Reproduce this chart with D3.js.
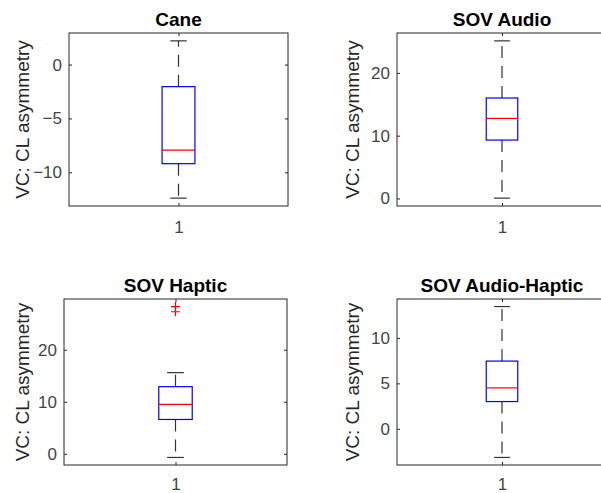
<!DOCTYPE html>
<html>
<head>
<meta charset="utf-8">
<script src="https://cdn.jsdelivr.net/npm/d3@7"></script>
<style>
  body { margin: 0; background: #fff; }
  svg text { font-family: "Liberation Sans", Arial, Helvetica, sans-serif; }
</style>
</head>
<body>
<div id="chart"></div>
<script>
// boxplot stats, one entry per subplot
let titles = ["Cane", "SOV Audio", "SOV Haptic", "SOV Audio-Haptic"];
let groups = ["1"];
let whiskerLow = [-12.4, 0.05, -0.7, -3.15];
let q1 = [-9.2, 9.3, 6.6, 3.0];
let medians = [-7.95, 12.75, 9.5, 4.5];
let q3 = [-2.05, 16.0, 12.9, 7.45];
let whiskerHigh = [2.2, 25.1, 15.6, 13.45];
let outliers = [[], [], [28.3, 27.3], []];
let yTicks = [[-10, -5, 0], [0, 10, 20], [0, 10, 20], [0, 5, 10]];
let yLabel = "VC: CL asymmetry";

// axes boxes, like matlab subplot positions
let panels = [
  {x: 69, y: 33, w: 219, h: 173, lx: 29, xpad: 15},
  {x: 397, y: 33, w: 210, h: 173, lx: 359, xpad: 15},
  {x: 64, y: 299, w: 223, h: 166, lx: 29, xpad: 13},
  {x: 397, y: 299, w: 210, h: 166, lx: 359, xpad: 13}
];

let axisCol = '#262626';
let textCol = '#444';
let tickFont = 17;
let titleFont = 19;

let svg = d3.select('#chart').append('svg')
  .attr('width', 601).attr('height', 493);

function styleAxis(g) {
  g.attr('font-family', null).attr('font-size', tickFont);
  g.select('.domain').remove();
  g.selectAll('line').attr('stroke', axisCol);
  g.selectAll('text').attr('fill', textCol);
}

panels.forEach((p, i) => {
  let lo = d3.min([whiskerLow[i], ...outliers[i]]);
  let hi = d3.max([whiskerHigh[i], ...outliers[i]]);
  let pad = (hi - lo) * 0.05;
  let y = d3.scaleLinear().domain([lo - pad, hi + pad]).range([p.h, 0]);
  let x = d3.scalePoint().domain(groups).range([0, p.w]).padding(0.5);
  let bw = x.step() * 0.075;   // half box width
  let cw = bw / 2;             // half cap width
  let cx = x(groups[0]);

  let g = svg.append('g').attr('transform', `translate(${p.x},${p.y})`);

  // ticks on all four sides, pointing in
  g.append('g').call(d3.axisLeft(y).tickValues(yTicks[i]).tickSizeInner(-3).tickSizeOuter(0).tickPadding(7))
    .call(styleAxis);
  g.append('g').attr('transform', `translate(${p.w},0)`)
    .call(d3.axisRight(y).tickValues(yTicks[i]).tickSizeInner(-3).tickSizeOuter(0).tickFormat(''))
    .call(styleAxis);
  g.append('g').attr('transform', `translate(0,${p.h})`)
    .call(d3.axisBottom(x).tickSizeInner(-3).tickSizeOuter(0).tickPadding(p.xpad))
    .call(styleAxis);
  g.append('g')
    .call(d3.axisTop(x).tickSizeInner(-3).tickSizeOuter(0).tickFormat(''))
    .call(styleAxis);

  g.append('rect')
    .attr('x', 0).attr('y', 0).attr('width', p.w).attr('height', p.h)
    .attr('fill', 'none').attr('stroke', axisCol).attr('stroke-width', 1);

  // whiskers, drawn from box edge outwards
  g.selectAll('.whisker').data([[q3[i], whiskerHigh[i]], [q1[i], whiskerLow[i]]])
    .enter().append('line').attr('class', 'whisker')
    .attr('x1', cx).attr('x2', cx)
    .attr('y1', d => y(d[0])).attr('y2', d => y(d[1]))
    .attr('stroke', '#333').attr('stroke-width', 1.2)
    .attr('stroke-dasharray', '12,8');

  g.selectAll('.cap').data([whiskerHigh[i], whiskerLow[i]])
    .enter().append('line').attr('class', 'cap')
    .attr('x1', cx - cw).attr('x2', cx + cw)
    .attr('y1', d => y(d)).attr('y2', d => y(d))
    .attr('stroke', '#333').attr('stroke-width', 1.2);

  g.append('rect')
    .attr('x', cx - bw).attr('width', bw * 2)
    .attr('y', y(q3[i])).attr('height', y(q1[i]) - y(q3[i]))
    .attr('fill', 'none').attr('stroke', '#0000ff').attr('stroke-width', 1.2);

  g.append('line')
    .attr('x1', cx - bw).attr('x2', cx + bw)
    .attr('y1', y(medians[i])).attr('y2', y(medians[i]))
    .attr('stroke', '#ff0000').attr('stroke-width', 1.2);

  g.selectAll('.outlier').data(outliers[i])
    .enter().append('path').attr('class', 'outlier')
    .attr('transform', d => `translate(${cx},${y(d)})`)
    .attr('d', 'M-4.5,0H4.5M0,-4.5V4.5')
    .attr('stroke', '#ff0000').attr('stroke-width', 1.2).attr('fill', 'none');

  g.append('text')
    .attr('x', p.w / 2).attr('y', -7)
    .attr('text-anchor', 'middle')
    .attr('font-size', titleFont).attr('font-weight', 'bold')
    .attr('fill', '#000')
    .text(titles[i]);

  svg.append('text')
    .attr('transform', `translate(${p.lx},${p.y + p.h / 2}) rotate(-90)`)
    .attr('text-anchor', 'middle')
    .attr('font-size', titleFont)
    .attr('fill', axisCol)
    .text(yLabel);
});
</script>
</body>
</html>
